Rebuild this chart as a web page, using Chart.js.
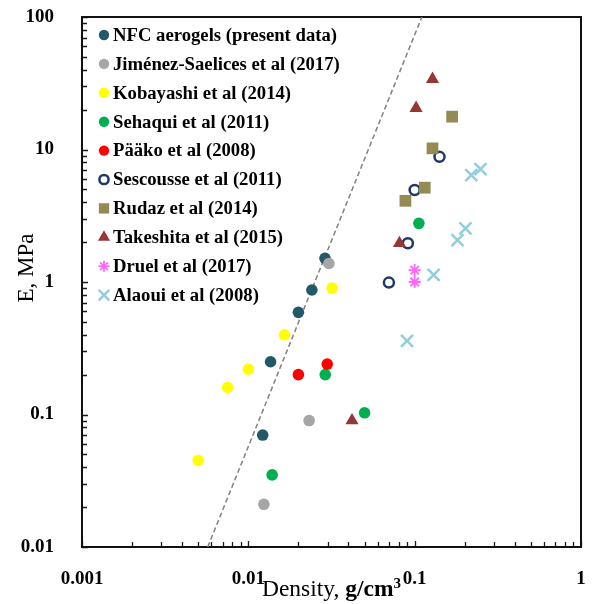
<!DOCTYPE html>
<html lang="en">
<head>
<meta charset="UTF-8" />
<title>E vs density</title>
<script src="https://cdn.jsdelivr.net/npm/chart.js"></script>
<style>
  html, body { margin: 0; padding: 0; background: #fff; }
</style>
</head>
<body>
<canvas id="chart" width="592" height="604"></canvas>
<script>
// axis ticks
const xTickValues = [0.001, 0.01, 0.1, 1];
const xTickLabels = ['0.001', '0.01', '0.1', '1'];
const yTickValues = [0.01, 0.1, 1, 10, 100];
const yTickLabels = ['0.01', '0.1', '1', '10', '100'];

// series (density g/cm3, modulus MPa)
const seriesNames = [
  'NFC aerogels (present data)',
  'Jiménez-Saelices et al (2017)',
  'Kobayashi et al (2014)',
  'Sehaqui et al (2011)',
  'Pääko et al (2008)',
  'Sescousse et al (2011)',
  'Rudaz et al (2014)',
  'Takeshita et al (2015)',
  'Druel et al (2017)',
  'Alaoui et al (2008)'
];
const nfcDensity = [0.0122, 0.0136, 0.0200, 0.0241, 0.0289];
const nfcModulus = [0.070, 0.25, 0.59, 0.87, 1.51];
const jimenezDensity = [0.0124, 0.0232, 0.0305];
const jimenezModulus = [0.021, 0.090, 1.38];
const kobayashiDensity = [0.0050, 0.0075, 0.0100, 0.0165, 0.0319];
const kobayashiModulus = [0.045, 0.16, 0.22, 0.40, 0.90];
const sehaquiDensity = [0.0139, 0.0290, 0.0500, 0.106];
const sehaquiModulus = [0.035, 0.20, 0.103, 2.77];
const paakoDensity = [0.0200, 0.0298];
const paakoModulus = [0.20, 0.24];
const sescousseDensity = [0.070, 0.091, 0.100, 0.141];
const sescousseModulus = [0.99, 1.96, 4.95, 8.8];
const rudazDensity = [0.088, 0.115, 0.128, 0.168];
const rudazModulus = [4.1, 5.15, 10.2, 17.7];
const takeshitaDensity = [0.042, 0.081, 0.102, 0.128];
const takeshitaModulus = [0.09, 1.96, 20.5, 34];
const druelDensity = [0.100, 0.100];
const druelModulus = [1.23, 1.0];
const alaouiDensity = [0.090, 0.130, 0.181, 0.202, 0.219, 0.249];
const alaouiModulus = [0.36, 1.13, 2.07, 2.54, 6.4, 7.1];

// dashed scaling line
const fitDensity = [0.0057, 0.1105];
const fitModulus = [0.01, 100];

const seriesX = [nfcDensity, jimenezDensity, kobayashiDensity, sehaquiDensity, paakoDensity,
  sescousseDensity, rudazDensity, takeshitaDensity, druelDensity, alaouiDensity];
const seriesY = [nfcModulus, jimenezModulus, kobayashiModulus, sehaquiModulus, paakoModulus,
  sescousseModulus, rudazModulus, takeshitaModulus, druelModulus, alaouiModulus];

// marker styles: [pointStyle, fill, border, borderWidth, radius, legendRadius]
const markerStyles = [
  ['circle', '#215968', '#215968', 0, 5.8, 5.2],
  ['circle', '#A6A6A6', '#A6A6A6', 0, 5.8, 5.2],
  ['circle', '#FFFF00', '#FFFF00', 0, 5.8, 5.2],
  ['circle', '#00B050', '#00B050', 0, 5.8, 5.2],
  ['circle', '#FF0000', '#FF0000', 0, 5.8, 5.2],
  ['circle', '#FFFFFF', '#1F3864', 2.5, 5, 4.6],
  ['rect', '#948A54', '#948A54', 0, 8.3, 7.3],
  ['triangle', '#953735', '#953735', 0, 7.6, 7],
  ['star', '#FF66FF', '#FF66FF', 1.8, 6, 5.5],
  ['crossRot', '#92CDDC', '#92CDDC', 2.5, 8.5, 7.5]
];

const FONT = "'Liberation Serif', 'Times New Roman', serif";

const datasets = seriesNames.map((name, i) => ({
  type: 'scatter',
  label: name,
  data: seriesX[i].map((x, k) => ({ x: x, y: seriesY[i][k] })),
  pointStyle: markerStyles[i][0],
  backgroundColor: markerStyles[i][1],
  borderColor: markerStyles[i][2],
  borderWidth: markerStyles[i][3],
  pointRadius: markerStyles[i][4],
  order: seriesNames.length - i
}));

datasets.push({
  type: 'line',
  label: '',
  data: fitDensity.map((x, k) => ({ x: x, y: fitModulus[k] })),
  borderColor: '#808080',
  borderWidth: 1.5,
  borderDash: [5, 3],
  pointRadius: 0,
  fill: false,
  order: 100
});

// box, inner minor ticks, axis titles and the legend
const framePlugin = {
  id: 'frame',
  beforeDatasetsDraw(chart) {
    const { ctx, chartArea: a, scales } = chart;
    ctx.save();
    ctx.strokeStyle = '#1a1a1a';
    ctx.lineWidth = 1.3;
    ctx.beginPath();
    for (let e = -3; e < 0; e++) {
      for (let m = 1; m <= 10; m++) {
        const px = Math.round(scales.x.getPixelForValue(m * Math.pow(10, e))) + 0.5;
        const len = (m === 1 || m === 10) ? 6 : 5;
        ctx.moveTo(px, a.bottom);
        ctx.lineTo(px, a.bottom - len);
      }
    }
    for (let e = -2; e < 2; e++) {
      for (let m = 1; m <= 10; m++) {
        const py = Math.round(scales.y.getPixelForValue(m * Math.pow(10, e))) + 0.5;
        const len = (m === 1 || m === 10) ? 6 : 5;
        ctx.moveTo(a.left, py);
        ctx.lineTo(a.left + len, py);
      }
    }
    ctx.stroke();
    ctx.lineWidth = 2;
    ctx.strokeStyle = '#111';
    ctx.strokeRect(a.left, a.top, a.right - a.left, a.bottom - a.top);
    ctx.restore();
  },
  afterDraw(chart) {
    const { ctx, chartArea: a } = chart;
    ctx.save();
    ctx.fillStyle = '#000';

    // x title: "Density, g/cm3"
    const p1 = 'Density, ', p2 = 'g/cm', p3 = '3';
    ctx.font = '23.5px ' + FONT;
    const w1 = ctx.measureText(p1).width;
    ctx.font = 'bold 23.5px ' + FONT;
    const w2 = ctx.measureText(p2).width;
    ctx.font = 'bold 15px ' + FONT;
    const w3 = ctx.measureText(p3).width;
    let tx = (a.left + a.right) / 2 - (w1 + w2 + w3) / 2;
    const ty = 596;
    ctx.textBaseline = 'alphabetic';
    ctx.textAlign = 'left';
    ctx.font = '23.5px ' + FONT;
    ctx.fillText(p1, tx, ty);
    ctx.font = 'bold 23.5px ' + FONT;
    ctx.fillText(p2, tx + w1, ty);
    ctx.font = 'bold 15px ' + FONT;
    ctx.fillText(p3, tx + w1 + w2, ty - 8);

    // y title
    ctx.save();
    ctx.translate(33, 268);
    ctx.rotate(-Math.PI / 2);
    ctx.font = '23px ' + FONT;
    ctx.textAlign = 'center';
    ctx.fillText('E, MPa', 0, 0);
    ctx.restore();

    // legend
    const drawPoint = Chart.helpers.drawPoint;
    ctx.textAlign = 'left';
    ctx.textBaseline = 'middle';
    seriesNames.forEach((name, i) => {
      const cy = a.top + 18 + i * 28.9;
      const st = markerStyles[i];
      ctx.fillStyle = st[1];
      ctx.strokeStyle = st[2];
      ctx.lineWidth = st[3];
      drawPoint(ctx, { pointStyle: st[0], radius: st[5], borderWidth: st[3], rotation: 0 }, 104, cy);
      ctx.fillStyle = '#000';
      ctx.font = 'bold 18.7px ' + FONT;
      ctx.fillText(name, 113, cy + 1);
    });
    ctx.restore();
  }
};

new Chart(document.getElementById('chart').getContext('2d'), {
  type: 'scatter',
  data: { datasets: datasets },
  options: {
    responsive: false,
    animation: false,
    layout: { padding: { top: 17, right: 2, left: 0, bottom: 0 } },
    plugins: { legend: { display: false }, tooltip: { enabled: false } },
    scales: {
      x: {
        type: 'logarithmic',
        position: 'bottom',
        min: 0.001,
        max: 1,
        grid: { display: false },
        border: { display: false },
        afterBuildTicks: (s) => { s.ticks = xTickValues.map(v => ({ value: v, major: true })); },
        afterFit: (s) => { s.height = 57; s.paddingLeft = 0; s.paddingRight = 0; },
        ticks: {
          autoSkip: false,
          maxRotation: 0,
          padding: 13,
          color: '#000',
          font: { family: FONT, size: 19, weight: 'bold' },
          callback: (v, i) => xTickLabels[i]
        }
      },
      y: {
        type: 'logarithmic',
        position: 'left',
        min: 0.01,
        max: 100,
        grid: { display: false },
        border: { display: false },
        afterBuildTicks: (s) => { s.ticks = yTickValues.map(v => ({ value: v, major: true })); },
        afterFit: (s) => { s.width = 82; s.paddingTop = 0; s.paddingBottom = 0; },
        ticks: {
          autoSkip: false,
          padding: 20,
          color: '#000',
          font: { family: FONT, size: 19, weight: 'bold' },
          callback: (v, i) => yTickLabels[i]
        }
      }
    }
  },
  plugins: [framePlugin]
});
</script>
</body>
</html>
